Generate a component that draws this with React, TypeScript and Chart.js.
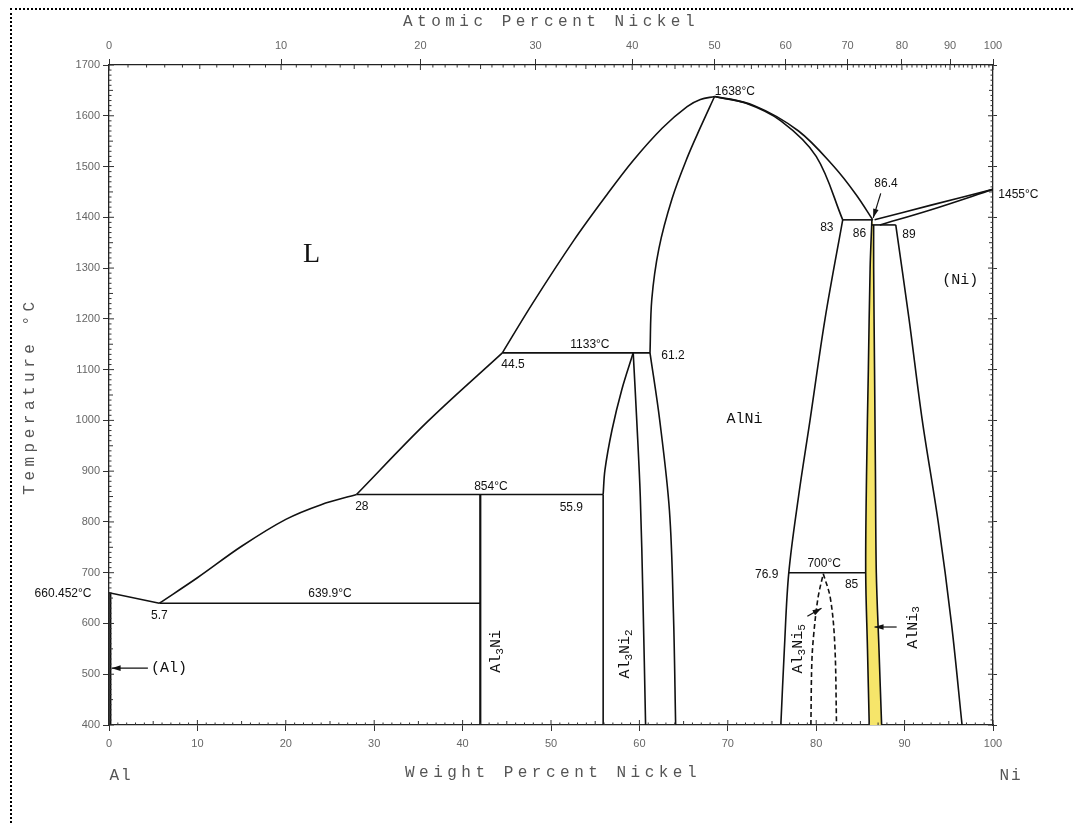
import React, { useEffect, useRef } from 'react';
import { Chart, registerables } from 'chart.js';

Chart.register(...registerables);

type P = [number, number];

// ---- axis ticks ----
const weightTicks = [0, 10, 20, 30, 40, 50, 60, 70, 80, 90, 100];
const atomicTicks = [0, 10, 20, 30, 40, 50, 60, 70, 80, 90, 100];
const tempTicks = [400, 500, 600, 700, 800, 900, 1000, 1100, 1200, 1300, 1400, 1500, 1600, 1700];

// atomic masses for the top (atomic %) axis
const MASS_AL = 26.98;
const MASS_NI = 58.69;
const atToWt = (a: number) => (a * MASS_NI) / (a * MASS_NI + (100 - a) * MASS_AL) * 100;

// ---- phase boundaries (weight % Ni, °C) ----
const alLiquidus: P[] = [[0, 660.452], [5.7, 639.9]];
const alSolid: P[] = [[0.15, 660.452], [0.15, 400]];
const liquidusLow: P[] = [[5.7, 639.9], [10, 690], [15, 752], [20, 805], [24, 834], [28, 854]];
const liquidusMid: P[] = [[28, 854], [36, 997], [44.5, 1133]];
const liquidusHigh: P[] = [[44.5, 1133], [47.9, 1230], [52.6, 1355], [56.3, 1444], [59.3, 1512], [62.6, 1576], [65.4, 1618], [66.9, 1632], [68.5, 1638]];
const liquidusRight: P[] = [[68.5, 1638], [73, 1620], [78, 1570], [82, 1500], [84.5, 1445], [86.4, 1395]];
const alNiLeftUpper: P[] = [[61.2, 1133], [61.4, 1238], [62.2, 1338], [63.7, 1437], [65.4, 1517], [66.9, 1577], [68.5, 1638]];
const alNiLeftLower: P[] = [[61.2, 1133], [62.3, 1000], [63.4, 822], [63.85, 620], [64.1, 400]];
const alNiSolidusRight: P[] = [[68.5, 1638], [72, 1625], [76, 1590], [80, 1520], [83, 1395]];
const alNiSolvusRight: P[] = [[76, 400], [76.4, 550], [76.9, 700], [78, 850], [79.3, 1000], [81, 1200], [83, 1395]];
const al3NiLine: P[] = [[42, 854], [42, 400]];
const al3Ni2Left: P[] = [[55.9, 854], [56.1, 902], [56.9, 981], [58.0, 1060], [59.3, 1133]];
const al3Ni2Vertical: P[] = [[55.9, 854], [55.9, 400]];
const al3Ni2Right: P[] = [[59.3, 1133], [59.7, 1000], [60.1, 850], [60.4, 650], [60.7, 400]];
const al3Ni5Left: P[] = [[79.4, 400], [79.5, 520], [79.7, 575], [80.2, 650], [80.8, 698]];
const al3Ni5Right: P[] = [[80.8, 698], [81.6, 650], [82.1, 560], [82.3, 400]];
const alNi3Left: P[] = [[86.3, 1395], [86.1, 1300], [85.9, 1100], [85.7, 900], [85.6, 700], [85.8, 550], [86.0, 400]];
const alNi3Right: P[] = [[86.5, 1385], [86.5, 1300], [86.6, 1100], [86.7, 900], [86.8, 700], [87.1, 550], [87.4, 400]];
const niLiquidus: P[] = [[86.6, 1395], [93, 1424], [100, 1455]];
const niSolidus: P[] = [[87.2, 1385], [93, 1415], [100, 1455]];
const niSolvus: P[] = [[89, 1385], [90.5, 1200], [92, 1000], [93.8, 800], [95.3, 600], [96.5, 400]];

// invariant horizontals
const eutectic640: P[] = [[5.7, 639.9], [42, 639.9]];
const peritectic854: P[] = [[28, 854], [55.9, 854]];
const peritectic1133: P[] = [[44.5, 1133], [61.2, 1133]];
const peritectic1395: P[] = [[83, 1395], [86.4, 1395]];
const eutectic1385: P[] = [[86.3, 1385], [89, 1385]];
const peritectoid700: P[] = [[76.9, 700], [85.6, 700]];

type Line = { pts: P[]; dash?: number[]; width?: number; curved?: boolean };
const lines: Line[] = [
  { pts: alLiquidus },
  { pts: alSolid, width: 2.2 },
  { pts: liquidusLow, curved: true },
  { pts: liquidusMid, curved: true },
  { pts: liquidusHigh, curved: true },
  { pts: liquidusRight, curved: true },
  { pts: alNiLeftUpper, curved: true },
  { pts: alNiLeftLower, curved: true },
  { pts: alNiSolidusRight, curved: true },
  { pts: alNiSolvusRight, curved: true },
  { pts: al3NiLine, width: 2.2 },
  { pts: al3Ni2Left, curved: true },
  { pts: al3Ni2Vertical },
  { pts: al3Ni2Right, curved: true },
  { pts: al3Ni5Left, dash: [5, 3], curved: true },
  { pts: al3Ni5Right, dash: [5, 3], curved: true },
  { pts: alNi3Left, curved: true },
  { pts: alNi3Right, curved: true },
  { pts: niLiquidus, curved: true },
  { pts: niSolidus, curved: true },
  { pts: niSolvus, curved: true },
  { pts: eutectic640 },
  { pts: peritectic854 },
  { pts: peritectic1133 },
  { pts: peritectic1395 },
  { pts: eutectic1385 },
  { pts: peritectoid700 },
];

// ---- labels (data coordinates) ----
type Label = { text: string; x: number; t: number; size?: number; font?: string; align?: CanvasTextAlign };
const numLabels: Label[] = [
  { text: '1638°C', x: 70.8, t: 1647 },
  { text: '1133°C', x: 54.4, t: 1150 },
  { text: '61.2', x: 63.8, t: 1128 },
  { text: '44.5', x: 45.7, t: 1110 },
  { text: '854°C', x: 43.2, t: 870 },
  { text: '28', x: 28.6, t: 830 },
  { text: '55.9', x: 52.3, t: 829 },
  { text: '639.9°C', x: 25.0, t: 659 },
  { text: '660.452°C', x: -5.2, t: 658 },
  { text: '5.7', x: 5.7, t: 615 },
  { text: '83', x: 81.2, t: 1380 },
  { text: '86', x: 84.9, t: 1368 },
  { text: '86.4', x: 87.9, t: 1467 },
  { text: '89', x: 90.5, t: 1366 },
  { text: '1455°C', x: 100.6, t: 1444, align: 'left' },
  { text: '76.9', x: 74.4, t: 696 },
  { text: '700°C', x: 80.9, t: 718 },
  { text: '85', x: 84.0, t: 676 },
];
const phaseLabels: Label[] = [
  { text: 'L', x: 22.9, t: 1326, size: 28, font: 'Liberation Serif' },
  { text: 'AlNi', x: 71.9, t: 1003, size: 15, font: 'Liberation Mono' },
  { text: '(Ni)', x: 96.3, t: 1276, size: 15, font: 'Liberation Mono' },
  { text: '(Al)', x: 6.8, t: 512, size: 15, font: 'Liberation Mono' },
];
type Rich = { runs: [string, boolean][]; x: number; t: number };
const rotatedLabels: Rich[] = [
  { runs: [['Al', false], ['3', true], ['Ni', false]], x: 43.8, t: 545 },
  { runs: [['Al', false], ['3', true], ['Ni', false], ['2', true]], x: 58.4, t: 540 },
  { runs: [['Al', false], ['3', true], ['Ni', false], ['5', true]], x: 77.9, t: 550 },
  { runs: [['AlNi', false], ['3', true]], x: 90.9, t: 592 },
];
type Arrow = { from: P; to: P };
const arrows: Arrow[] = [
  { from: [4.4, 512], to: [0.3, 512] },
  { from: [87.3, 1447], to: [86.45, 1399] },
  { from: [89.1, 593], to: [86.6, 593] },
  { from: [79.0, 614], to: [80.6, 630] },
];

const annotationPlugin = {
  id: 'phaseAnnotations',
  afterDraw(chart: any) {
    const { ctx, scales } = chart;
    const x = scales.x, y = scales.y, x2 = scales.x2;
    const px = (v: number) => x.getPixelForValue(v);
    const py = (v: number) => y.getPixelForValue(v);
    const left = chart.chartArea.left, right = chart.chartArea.right;
    const top = chart.chartArea.top, bottom = chart.chartArea.bottom;
    ctx.save();
    ctx.strokeStyle = '#333';
    ctx.lineWidth = 1;
    // minor ticks
    ctx.beginPath();
    for (let v = 0; v <= 100; v += 1) {
      const len = v % 10 === 0 ? 5 : v % 5 === 0 ? 4 : 2.5;
      const X = px(v);
      ctx.moveTo(X, bottom); ctx.lineTo(X, bottom - len);
    }
    for (let a = 0; a <= 100; a += 1) {
      const len = a % 10 === 0 ? 5 : a % 5 === 0 ? 4 : 2.5;
      const X = x2.getPixelForValue(atToWt(a));
      ctx.moveTo(X, top); ctx.lineTo(X, top + len);
    }
    for (let t = 400; t <= 1700; t += 10) {
      const len = t % 100 === 0 ? 5 : t % 50 === 0 ? 4 : 2.5;
      const Y = py(t);
      ctx.moveTo(left, Y); ctx.lineTo(left + len, Y);
      ctx.moveTo(right, Y); ctx.lineTo(right - len, Y);
    }
    ctx.stroke();

    // numeric labels
    ctx.fillStyle = '#111';
    ctx.textBaseline = 'middle';
    for (const l of numLabels) {
      ctx.font = `${l.size ?? 12}px ${l.font ?? 'Liberation Sans'}`;
      ctx.textAlign = l.align ?? 'center';
      ctx.fillText(l.text, px(l.x), py(l.t));
    }
    for (const l of phaseLabels) {
      ctx.font = `${l.size ?? 14}px ${l.font ?? 'Liberation Mono'}`;
      ctx.textAlign = 'center';
      ctx.fillText(l.text, px(l.x), py(l.t));
    }
    // rotated labels
    for (const r of rotatedLabels) {
      ctx.save();
      ctx.translate(px(r.x), py(r.t));
      ctx.rotate(-Math.PI / 2);
      const big = 15, small = 11;
      let total = 0;
      for (const [s, sub] of r.runs) {
        ctx.font = `${sub ? small : big}px Liberation Mono`;
        total += ctx.measureText(s).width;
      }
      let cx = -total / 2;
      ctx.textAlign = 'left';
      for (const [s, sub] of r.runs) {
        ctx.font = `${sub ? small : big}px Liberation Mono`;
        ctx.fillText(s, cx, sub ? 4 : 0);
        cx += ctx.measureText(s).width;
      }
      ctx.restore();
    }
    // arrows
    ctx.strokeStyle = '#111';
    ctx.lineWidth = 1.2;
    for (const a of arrows) {
      const x0 = px(a.from[0]), y0 = py(a.from[1]);
      const x1 = px(a.to[0]), y1 = py(a.to[1]);
      ctx.beginPath(); ctx.moveTo(x0, y0); ctx.lineTo(x1, y1); ctx.stroke();
      const ang = Math.atan2(y1 - y0, x1 - x0);
      const L = 9, W = 2.8;
      ctx.beginPath();
      ctx.moveTo(x1, y1);
      ctx.lineTo(x1 - L * Math.cos(ang) + W * Math.sin(ang), y1 - L * Math.sin(ang) - W * Math.cos(ang));
      ctx.lineTo(x1 - L * Math.cos(ang) - W * Math.sin(ang), y1 - L * Math.sin(ang) + W * Math.cos(ang));
      ctx.closePath(); ctx.fill();
    }

    // axis titles
    ctx.fillStyle = '#555';
    ctx.font = '16px Liberation Mono';
    (ctx as any).letterSpacing = '4.5px';
    ctx.textAlign = 'center';
    ctx.fillText('Atomic Percent Nickel', 551, 22);
    ctx.fillText('Weight Percent Nickel', 553, 773);
    ctx.save();
    ctx.translate(30, 396);
    ctx.rotate(-Math.PI / 2);
    ctx.fillText('Temperature °C', 0, 0);
    ctx.restore();
    (ctx as any).letterSpacing = '2px';
    ctx.fillText('Al', 121, 776);
    ctx.fillText('Ni', 1011, 776);
    (ctx as any).letterSpacing = '0px';
    ctx.restore();
  },
};

const tickFont = { family: 'Liberation Sans', size: 11 };
const gridOpts = { drawOnChartArea: false, drawTicks: true, tickLength: 6, color: '#333', lineWidth: 1 };
const borderOpts = { display: true, color: '#222', width: 1.3 };
const plain = (v: any) => String(v);

export default function App() {
  const ref = useRef<HTMLCanvasElement | null>(null);
  useEffect(() => {
    if (!ref.current) return;
    const datasets: any[] = lines.map((l) => ({
      data: l.pts.map(([a, b]) => ({ x: a, y: b })),
      showLine: true,
      borderColor: '#111',
      borderWidth: l.width ?? 1.6,
      borderDash: l.dash ?? [],
      pointRadius: 0,
      tension: l.curved ? 0.35 : 0,
      fill: false,
    }));
    datasets.push({
      data: [...alNi3Left, ...[...alNi3Right].reverse()].map(([a, b]) => ({ x: a, y: b })),
      showLine: true,
      borderWidth: 0,
      borderColor: 'rgba(0,0,0,0)',
      backgroundColor: '#f6e56a',
      pointRadius: 0,
      tension: 0,
      fill: 'shape',
    });
    const chart = new Chart(ref.current, {
      type: 'scatter',
      data: { datasets },
      options: {
        responsive: false,
        animation: false,
        layout: { padding: 0 },
        plugins: { legend: { display: false }, tooltip: { enabled: false } },
        scales: {
          x: {
            type: 'linear', position: 'bottom', min: 0, max: 100,
            afterBuildTicks: (s: any) => { s.ticks = weightTicks.map((v) => ({ value: v })); },
            afterFit: (s: any) => { s.height = 98; },
            ticks: { color: '#666', font: tickFont, padding: 6, maxRotation: 0, autoSkip: false, callback: plain },
            grid: gridOpts, border: borderOpts,
          },
          x2: {
            type: 'linear', position: 'top', min: 0, max: 100,
            afterBuildTicks: (s: any) => { s.ticks = atomicTicks.map((a) => ({ value: atToWt(a) })); },
            afterFit: (s: any) => { s.height = 65; },
            ticks: { color: '#666', font: tickFont, padding: 6, maxRotation: 0, autoSkip: false, callback: (_v: any, i: number) => String(atomicTicks[i]) },
            grid: gridOpts, border: borderOpts,
          },
          y: {
            type: 'linear', position: 'left', min: 400, max: 1700,
            afterBuildTicks: (s: any) => { s.ticks = tempTicks.map((v) => ({ value: v })); },
            afterFit: (s: any) => { s.width = 109; },
            ticks: { color: '#666', font: tickFont, padding: 3, autoSkip: false, callback: plain },
            grid: gridOpts, border: borderOpts,
          },
          y2: {
            type: 'linear', position: 'right', min: 400, max: 1700,
            afterBuildTicks: (s: any) => { s.ticks = tempTicks.map((v) => ({ value: v })); },
            afterFit: (s: any) => { s.width = 80; },
            ticks: { display: false },
            grid: { ...gridOpts, tickLength: 4 }, border: borderOpts,
          },
        },
      } as any,
      plugins: [annotationPlugin],
    });
    return () => chart.destroy();
  }, []);
  return (
    <div style={{ position: 'absolute', left: 0, top: 0, width: 1073, height: 823, background: '#fff' }}>
      <canvas ref={ref} width={1073} height={823} style={{ position: 'absolute', left: 0, top: 0, width: 1073, height: 823 }} />
      <div style={{ position: 'absolute', left: 10, top: 8, right: 0, bottom: -4, borderTop: '2px dotted #000', borderLeft: '2px dotted #000', pointerEvents: 'none' }} />
    </div>
  );
}
